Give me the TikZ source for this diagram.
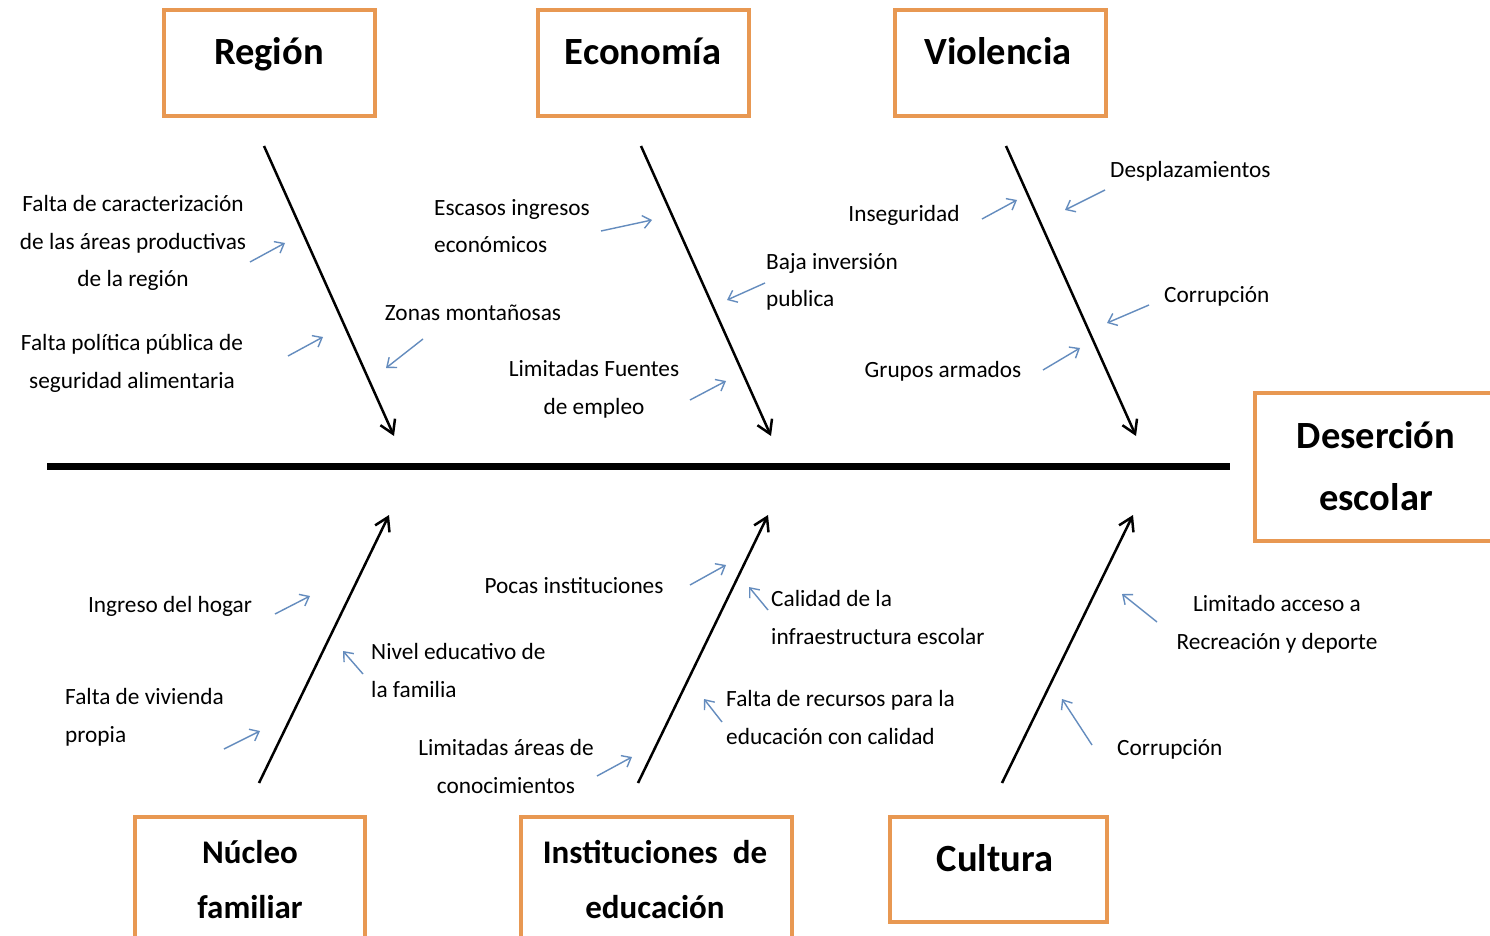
\documentclass[tikz,border=0pt]{standalone}
\usepackage{fontspec}
\setmainfont{Carlito}
\usetikzlibrary{arrows.meta}
\definecolor{boxorange}{RGB}{232,152,82}
\definecolor{arrowblue}{RGB}{100,140,190}
\begin{document}
\begin{tikzpicture}[x=1pt,y=-1pt,
  lbl/.style={font=\fontsize{23.3}{37.5}\selectfont, inner sep=0pt, align=center},
  lbll/.style={lbl, align=left},
  ttl/.style={font=\fontsize{38.5}{58}\selectfont\bfseries, inner sep=0pt, align=center},
  cbox/.style={draw=boxorange, line width=4pt, inner sep=0pt},
  bone/.style={line width=2.5pt, -{Straight Barb[length=13pt,width=16pt,line width=2.5pt]}},
  twig/.style={draw=arrowblue, line width=1.4pt, -{Straight Barb[length=8pt,width=13pt,line width=1.4pt]}},
  spinestyle/.style={line width=7pt}]
\useasboundingbox (0,0) rectangle (1490,936);
\fill[white] (0,0) rectangle (1490,936);

% category boxes
\node[cbox, minimum width=211pt, minimum height=106pt] (bR) at (269.5,63) {};
\node[cbox, minimum width=211pt, minimum height=106pt] (bE) at (643.5,63) {};
\node[cbox, minimum width=211pt, minimum height=106pt] (bV) at (1000.5,63) {};
\node[cbox, minimum width=245pt, minimum height=148pt] (bD) at (1377.5,467) {};
\node[cbox, minimum width=230pt, minimum height=128pt] (bN) at (250,881) {};
\node[cbox, minimum width=271pt, minimum height=128pt] (bI) at (656.5,881) {};
\node[cbox, minimum width=217pt, minimum height=105pt] (bC) at (998.5,869.5) {};

\node[ttl, anchor=base] (tR) at (269,65) {Región};
\node[ttl, anchor=base] (tE) at (643,65) {Economía};
\node[ttl, anchor=base] (tV) at (998,65) {Violencia};
\node[ttl, font=\fontsize{38.5}{62}\selectfont\bfseries] (tD) at (1376,466) {Deserción\\escolar};
\node[ttl, font=\fontsize{33}{55}\selectfont\bfseries] (tN) at (250,880) {Núcleo\\familiar};
\node[ttl, font=\fontsize{33}{55}\selectfont\bfseries] (tI) at (655,880) {Instituciones\ \ de\\educación};
\node[ttl, anchor=base] (tC) at (995,871) {Cultura};

% spine
\coordinate (s0) at (47,466);
\coordinate (s1) at (1230,466);
\draw[spinestyle] (s0) -- (s1);

% bones
\coordinate (r0) at (264,146); \coordinate (r1) at (394,436);
\coordinate (e0) at (641,146); \coordinate (e1) at (771,436);
\coordinate (v0) at (1006,146); \coordinate (v1) at (1136,436);
\coordinate (n0) at (259,783); \coordinate (n1) at (389,515);
\coordinate (i0) at (638,783); \coordinate (i1) at (768,515);
\coordinate (c0) at (1002,783); \coordinate (c1) at (1133,515);
\draw[bone] (r0) -- (r1);
\draw[bone] (e0) -- (e1);
\draw[bone] (v0) -- (v1);
\draw[bone] (n0) -- (n1);
\draw[bone] (i0) -- (i1);
\draw[bone] (c0) -- (c1);

% labels - Region
\node[lbl] (l1) at (133,243) {Falta de caracterización\\de las áreas productivas\\de la región};
\node[lbl] (l2) at (132,363.5) {Falta política pública de\\seguridad alimentaria};
\node[lbl] (l3) at (473,313) {Zonas montañosas};
% Economia
\node[lbll, anchor=west] (l4) at (434,226) {Escasos ingresos\\económicos};
\node[lbll, anchor=west] (l5) at (766,282) {Baja inversión\\publica};
\node[lbl] (l6) at (594,389.5) {Limitadas Fuentes\\de empleo};
% Violencia
\node[lbl] (l7) at (904,215) {Inseguridad};
\node[lbll, anchor=west] (l8) at (1110,171) {Desplazamientos};
\node[lbll, anchor=west] (l9) at (1164,296) {Corrupción};
\node[lbl] (l10) at (943,371) {Grupos armados};
% Nucleo
\node[lbl] (l11) at (170,606) {Ingreso del hogar};
\node[lbll, anchor=west] (l12) at (65,717.5) {Falta de vivienda\\propia};
\node[lbll, anchor=west] (l13) at (371,670.5) {Nivel educativo de\\la familia};
% Instituciones
\node[lbl] (l14) at (574,586) {Pocas instituciones};
\node[lbll, anchor=west] (l15) at (771,617.5) {Calidad de la\\infraestructura escolar};
\node[lbll, anchor=west] (l16) at (726,717.5) {Falta de recursos para la\\educación con calidad};
\node[lbl] (l17) at (506,766.5) {Limitadas áreas de\\conocimientos};
% Cultura
\node[lbl] (l18) at (1277,624.5) {Limitado acceso a\\Recreación y deporte};
\node[lbll, anchor=west] (l19) at (1117,749) {Corrupción};

% small blue arrows
\coordinate (a1s) at (250,262);  \coordinate (a1e) at (285,243);
\coordinate (a2s) at (288,356);  \coordinate (a2e) at (323,337);
\coordinate (a3s) at (423,339);  \coordinate (a3e) at (386,368);
\coordinate (a4s) at (601,231);  \coordinate (a4e) at (652,220);
\coordinate (a5s) at (765,283);  \coordinate (a5e) at (727,300);
\coordinate (a6s) at (690,400);  \coordinate (a6e) at (726,381);
\coordinate (a7s) at (982,219);  \coordinate (a7e) at (1017,200);
\coordinate (a8s) at (1105,190); \coordinate (a8e) at (1065,210);
\coordinate (a9s) at (1149,305); \coordinate (a9e) at (1107,323);
\coordinate (a10s) at (1043,370); \coordinate (a10e) at (1080,348);
\coordinate (a11s) at (275,614); \coordinate (a11e) at (310,596);
\coordinate (a12s) at (224,749); \coordinate (a12e) at (260,731);
\coordinate (a13s) at (363,674); \coordinate (a13e) at (343,651);
\coordinate (a14s) at (690,585); \coordinate (a14e) at (726,565);
\coordinate (a15s) at (768,610); \coordinate (a15e) at (749,587);
\coordinate (a16s) at (722,722); \coordinate (a16e) at (704,699);
\coordinate (a17s) at (597,776); \coordinate (a17e) at (632,757);
\coordinate (a18s) at (1157,622); \coordinate (a18e) at (1122,594);
\coordinate (a19s) at (1092,745); \coordinate (a19e) at (1062,699);
\foreach \k in {1,...,19} {\draw[twig] (a\k s) -- (a\k e);}
\end{tikzpicture}
\end{document}
